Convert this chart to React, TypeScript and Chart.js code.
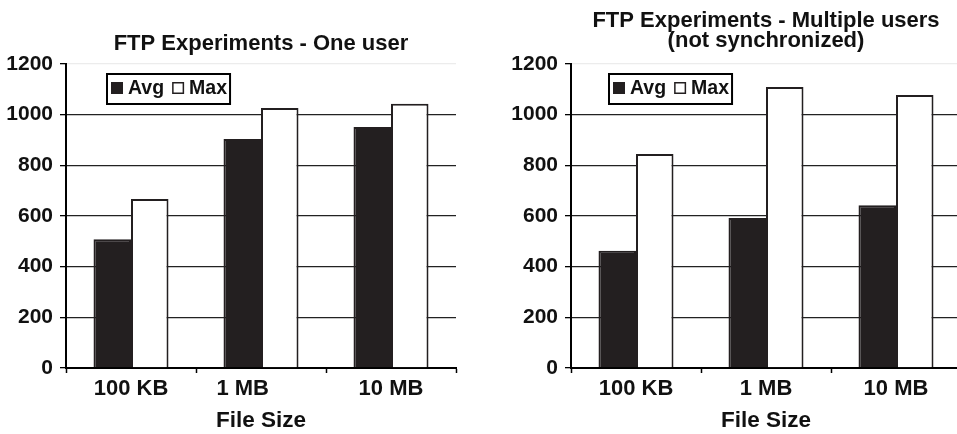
import React, { useEffect, useRef } from 'react';
import { Chart, registerables } from 'chart.js';

Chart.register(...registerables);

const FONT = '"Liberation Sans", Arial, Helvetica, sans-serif';

// ---- data ----
const categories = ['100 KB', '1 MB', '10 MB'];
// left chart shows the "1 MB" label shifted left in the original
const oneUserTickLabels = ['100 KB', '1 MB      ', '10 MB'];
const seriesNames = ['Avg', 'Max'];
const oneUserAvg = [508, 904, 951];
const oneUserMax = [667, 1026, 1043];
const multiUserAvg = [463, 592, 642];
const multiUserMax = [845, 1109, 1078];
const yMin = 0;
const yMax = 1200;
const yStep = 200;
const oneUserTitle = ['FTP Experiments - One user'];
const multiUserTitle = ['FTP Experiments - Multiple users', '(not synchronized)'];
const xAxisTitle = 'File Size';

const DARK = '#231f20';

// title centred over the plot area (as in the original)
const areaTitlePlugin = {
  id: 'areaTitle',
  afterDraw(chart: any, _args: any, opts: any) {
    const ctx = chart.ctx;
    const { left, right } = chart.chartArea;
    const cx = (left + right) / 2;
    ctx.save();
    ctx.font = `bold ${opts.size}px ${FONT}`;
    ctx.fillStyle = '#111';
    ctx.textAlign = 'center';
    ctx.textBaseline = 'middle';
    (opts.lines || []).forEach((line: string, i: number) => {
      ctx.fillText(line, cx, opts.firstY + i * opts.lineGap);
    });
    ctx.restore();
  },
};

const boxLegendPlugin = {
  id: 'boxLegend',
  afterDraw(chart: any, _args: any, opts: any) {
    const ctx = chart.ctx;
    const { left, top } = chart.chartArea;
    const x0 = left + (opts.offsetX || 0);
    const y0 = top + (opts.offsetY || 0);
    const h = 32;
    ctx.save();
    ctx.font = `bold 19.5px ${FONT}`;
    const ds = chart.data.datasets;
    const sq = 12;
    const padL = 5;
    const gapSqText = 5;
    const gapItems = 8;
    const padR = 4;
    let w = padL;
    const widths = ds.map((d: any) => ctx.measureText(d.label).width);
    ds.forEach((_d: any, i: number) => {
      w += sq + gapSqText + widths[i];
      if (i < ds.length - 1) w += gapItems;
    });
    w += padR;
    ctx.fillStyle = '#fff';
    ctx.fillRect(x0, y0, w, h);
    ctx.lineWidth = 2;
    ctx.strokeStyle = '#000';
    ctx.strokeRect(x0 + 1, y0 + 1, w - 2, h - 2);
    let x = x0 + padL;
    const cy = y0 + h / 2;
    ds.forEach((d: any, i: number) => {
      ctx.fillStyle = d.backgroundColor;
      ctx.fillRect(x, cy - sq / 2 - 1, sq, sq);
      ctx.lineWidth = 1.5;
      ctx.strokeStyle = DARK;
      ctx.strokeRect(x + 0.75, cy - sq / 2 - 1 + 0.75, sq - 1.5, sq - 1.5);
      x += sq + gapSqText;
      ctx.fillStyle = '#111';
      ctx.textAlign = 'left';
      ctx.textBaseline = 'middle';
      ctx.fillText(d.label, x, cy);
      x += widths[i] + gapItems;
    });
    ctx.restore();
  },
};

type ChartProps = {
  left: number;
  width: number;
  labels: string[];
  avg: number[];
  max: number[];
  title: string[];
  titleY: number;
  yAxisWidth: number;
  rightPad: number;
  legendOffsetX: number;
};

function FtpChart(p: ChartProps) {
  const ref = useRef<HTMLCanvasElement | null>(null);
  useEffect(() => {
    if (!ref.current) return;
    const chart = new Chart(ref.current, {
      type: 'bar',
      data: {
        labels: p.labels,
        datasets: [
          {
            label: seriesNames[0],
            data: p.avg,
            backgroundColor: DARK,
            borderColor: DARK,
            borderWidth: 2,
            categoryPercentage: 0.577,
            barPercentage: 1,
          },
          {
            label: seriesNames[1],
            data: p.max,
            backgroundColor: '#ffffff',
            borderColor: DARK,
            borderWidth: 2,
            categoryPercentage: 0.577,
            barPercentage: 1,
          },
        ],
      },
      options: {
        responsive: false,
        animation: false,
        devicePixelRatio: 1,
        layout: { padding: { left: 0, right: p.rightPad, top: 64, bottom: 0 } },
        plugins: {
          legend: { display: false },
          tooltip: { enabled: false },
          title: { display: false },
          areaTitle: { lines: p.title, size: 22, firstY: p.titleY, lineGap: 20 },
          boxLegend: { offsetX: p.legendOffsetX, offsetY: 9 },
        } as any,
        scales: {
          x: {
            offset: true,
            afterFit: (scale: any) => {
              scale.height = 66;
            },
            grid: {
              offset: true,
              drawOnChartArea: false,
              drawTicks: true,
              tickLength: 5,
              tickColor: '#000',
              tickWidth: 1.5,
              color: '#000',
            },
            border: { display: true, color: '#000', width: 2 },
            ticks: {
              color: '#111',
              padding: 3,
              maxRotation: 0,
              autoSkip: false,
              font: { family: FONT, size: 22, weight: 'bold', lineHeight: 1.2 },
            },
            title: {
              display: true,
              text: xAxisTitle,
              color: '#111',
              font: { family: FONT, size: 22.5, weight: 'bold', lineHeight: 1 },
              padding: { top: 0, bottom: 1.5 },
            },
          },
          y: {
            min: yMin,
            max: yMax,
            afterFit: (scale: any) => {
              scale.width = p.yAxisWidth;
            },
            grid: {
              drawTicks: true,
              tickLength: 6,
              tickColor: '#000',
              lineWidth: 1.3,
              color: (c: any) => (c.tick && c.tick.value === yMax ? '#ececec' : '#222'),
            },
            border: { display: true, color: '#000', width: 2 },
            ticks: {
              stepSize: yStep,
              color: '#111',
              padding: 7,
              font: { family: FONT, size: 21, weight: 'bold' },
              callback: (v: any) => String(v),
            },
          },
        },
      },
      plugins: [areaTitlePlugin, boxLegendPlugin],
    } as any);
    return () => chart.destroy();
  }, []);
  return (
    <div style={{ position: 'absolute', left: p.left, top: 0, width: p.width, height: 434 }}>
      <canvas ref={ref} width={p.width} height={434} style={{ display: 'block' }} />
    </div>
  );
}

export default function App() {
  return (
    <div
      style={{
        position: 'absolute',
        left: 0,
        top: 0,
        width: 957,
        height: 434,
        overflow: 'hidden',
        background: '#fff',
      }}
    >
      <FtpChart
        left={0}
        width={470}
        labels={oneUserTickLabels}
        avg={oneUserAvg}
        max={oneUserMax}
        title={oneUserTitle}
        titleY={44}
        yAxisWidth={66}
        rightPad={14}
        legendOffsetX={40}
      />
      <FtpChart
        left={480}
        width={495}
        labels={categories}
        avg={multiUserAvg}
        max={multiUserMax}
        title={multiUserTitle}
        titleY={20.5}
        yAxisWidth={91}
        rightPad={14}
        legendOffsetX={37}
      />
    </div>
  );
}
